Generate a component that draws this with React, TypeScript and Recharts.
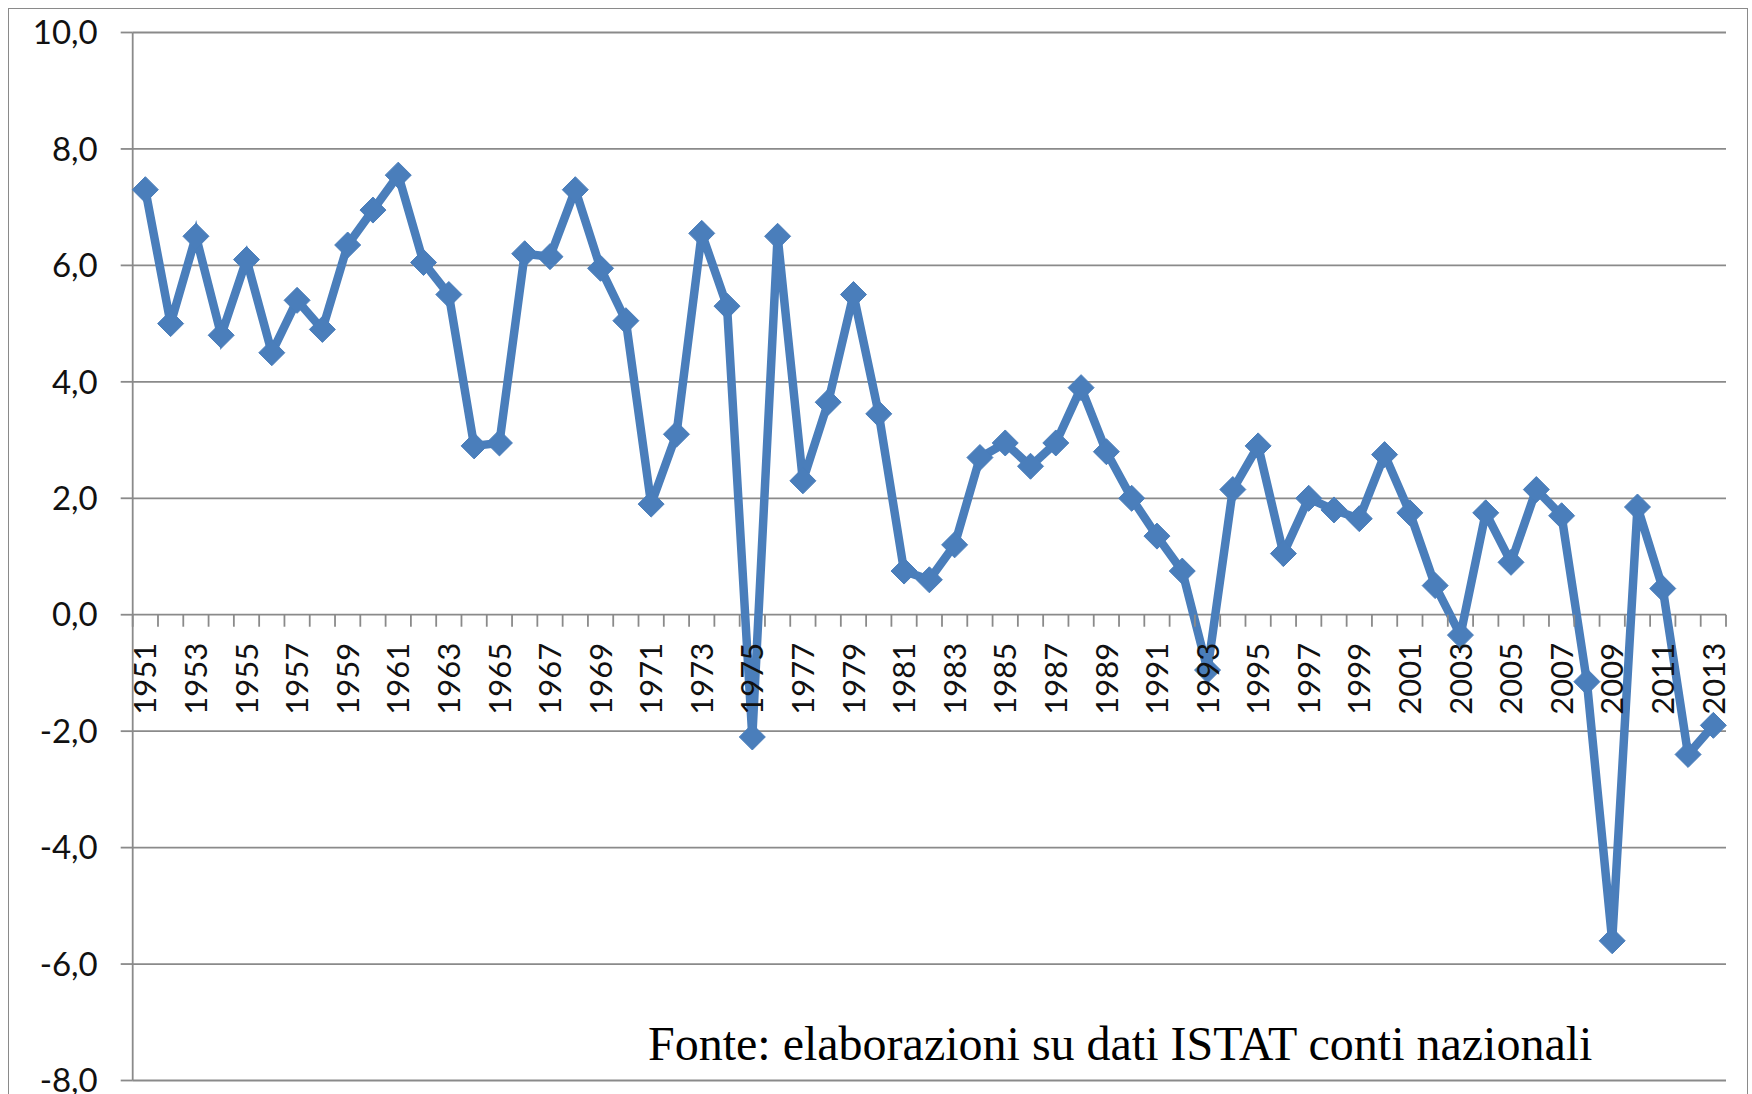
import React from 'react';
import { LineChart, Line, XAxis, YAxis, CartesianGrid } from 'recharts';

const years = [
  '1951', '1952', '1953', '1954', '1955', '1956', '1957', '1958', '1959', '1960',
  '1961', '1962', '1963', '1964', '1965', '1966', '1967', '1968', '1969', '1970',
  '1971', '1972', '1973', '1974', '1975', '1976', '1977', '1978', '1979', '1980',
  '1981', '1982', '1983', '1984', '1985', '1986', '1987', '1988', '1989', '1990',
  '1991', '1992', '1993', '1994', '1995', '1996', '1997', '1998', '1999', '2000',
  '2001', '2002', '2003', '2004', '2005', '2006', '2007', '2008', '2009', '2010',
  '2011', '2012', '2013',
];

// crescita annua (%)
const growth = [
  7.3, 5.0, 6.5, 4.8, 6.1, 4.5, 5.4, 4.9, 6.35, 6.95,
  7.55, 6.05, 5.5, 2.9, 2.95, 6.2, 6.15, 7.3, 5.95, 5.05,
  1.9, 3.1, 6.55, 5.3, -2.1, 6.5, 2.3, 3.65, 5.5, 3.45,
  0.75, 0.6, 1.2, 2.7, 2.95, 2.55, 2.95, 3.9, 2.8, 2.0,
  1.35, 0.75, -0.95, 2.15, 2.9, 1.05, 2.0, 1.8, 1.65, 2.75,
  1.75, 0.5, -0.35, 1.75, 0.9, 2.15, 1.7, -1.15, -5.6, 1.85,
  0.45, -2.4, -1.9,
];

const yTicks = [-8, -6, -4, -2, 0, 2, 4, 6, 8, 10];
const caption = 'Fonte: elaborazioni su dati ISTAT conti nazionali';

const data = years.map((year, i) => ({ year, value: growth[i] }));

const W = 1752;
const H = 1094;
const TOP = 32.5;
const BOTTOM = 1080.5;
const LEFT = 132.7;
const RIGHT = 1726;
const PLOT_H = BOTTOM - TOP;
const BAND = (RIGHT - LEFT) / years.length;
const Y_MIN = -8;
const Y_MAX = 10;
// distance from plot bottom up to the zero line
const ZERO_UP = (PLOT_H * (0 - Y_MIN)) / (Y_MAX - Y_MIN);

const GRID = '#8a8a8a';
const BLUE = '#4A7EBB';
const FONT = 'Lato, "Open Sans", sans-serif';

const fmt = (v: number) => v.toFixed(1).replace('.', ',');

function YearTick(props: any) {
  const { x, y, payload, index } = props;
  const zy = y - ZERO_UP;
  const last = index === years.length - 1;
  return (
    <g>
      <line x1={x - BAND / 2} y1={zy} x2={x - BAND / 2} y2={zy + 12} stroke={GRID} strokeWidth={1.8} />
      {last && (
        <line x1={x + BAND / 2} y1={zy} x2={x + BAND / 2} y2={zy + 12} stroke={GRID} strokeWidth={1.8} />
      )}
      {index % 2 === 0 && (
        <text
          x={x}
          y={zy + 28}
          transform={`rotate(-90 ${x} ${zy + 28})`}
          textAnchor="end"
          dy="0.36em"
          fontSize={31}
          fontFamily={FONT}
          fill="#111"
        >
          {payload.value}
        </text>
      )}
    </g>
  );
}

function Diamond(props: any) {
  const { cx, cy, index } = props;
  if (cx == null || cy == null) return <g key={index} />;
  const r = 13;
  return (
    <path
      key={index}
      d={`M${cx},${cy - r} L${cx + r},${cy} L${cx},${cy + r} L${cx - r},${cy} Z`}
      fill={BLUE}
      stroke={BLUE}
      strokeWidth={1}
    />
  );
}

export default function App() {
  return (
    <div
      style={{
        position: 'absolute',
        left: 0,
        top: 0,
        width: W,
        height: H,
        background: '#fff',
        overflow: 'hidden',
      }}
    >
      <div
        style={{
          position: 'absolute',
          left: 8,
          top: 8,
          width: 1740,
          height: 1120,
          boxSizing: 'border-box',
          border: `1.5px solid ${GRID}`,
        }}
      />
      <div style={{ position: 'absolute', left: 0, top: 0 }}>
        <LineChart
          width={W}
          height={H}
          data={data}
          margin={{ top: TOP, right: W - RIGHT, bottom: H - BOTTOM - 1, left: 0 }}
        >
          <CartesianGrid vertical={false} stroke={GRID} strokeWidth={1.8} />
          <XAxis
            dataKey="year"
            height={1}
            interval={0}
            axisLine={false}
            tickLine={false}
            tickSize={0}
            tickMargin={0}
            padding={{ left: BAND / 2, right: BAND / 2 }}
            tick={(p: any) => <YearTick {...p} />}
          />
          <YAxis
            width={LEFT}
            domain={[Y_MIN, Y_MAX]}
            ticks={yTicks}
            interval={0}
            tickFormatter={fmt}
            axisLine={{ stroke: GRID, strokeWidth: 1.8 }}
            tickLine={{ stroke: GRID, strokeWidth: 1.8 }}
            tickSize={12}
            tickMargin={23}
            tick={{ fontSize: 33, fontFamily: FONT, fill: '#111' }}
          />
          <Line
            type="linear"
            dataKey="value"
            stroke={BLUE}
            strokeWidth={8.5}
            dot={(p: any) => <Diamond {...p} />}
            activeDot={false}
            isAnimationActive={false}
          />
        </LineChart>
      </div>
      <svg width={W} height={H} style={{ position: 'absolute', left: 0, top: 0, pointerEvents: 'none' }}>
        <text x={648} y={1060} fontSize={48} fontFamily='"Liberation Serif", "Times New Roman", serif' fill="#000">
          {caption}
        </text>
      </svg>
    </div>
  );
}
